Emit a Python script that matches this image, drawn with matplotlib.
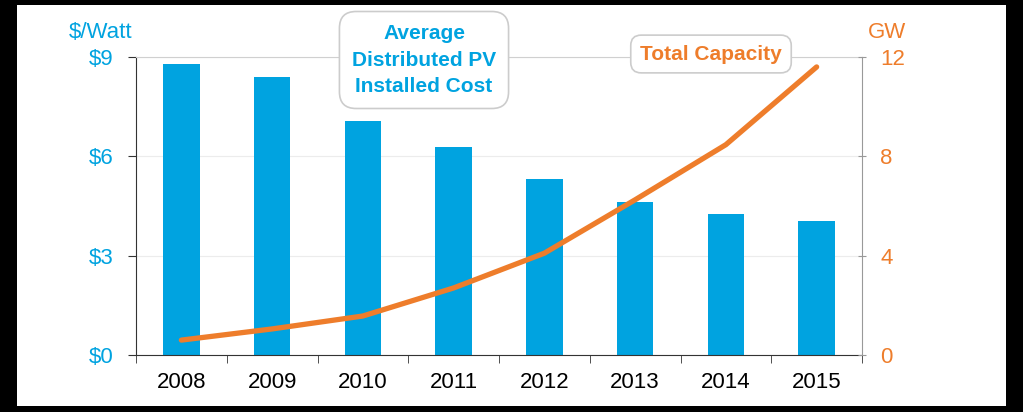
import matplotlib.pyplot as plt
from matplotlib.patches import Rectangle

# chart data
years = ['2008', '2009', '2010', '2011', '2012', '2013', '2014', '2015']
cost = [8.8, 8.4, 7.07, 6.28, 5.32, 4.62, 4.26, 4.05]
capacity = [0.6, 1.05, 1.57, 2.7, 4.1, 6.25, 8.47, 11.6]
cost_ticks = [0, 3, 6, 9]
cost_labels = ['$0', '$3', '$6', '$9']
gw_ticks = [0, 4, 8, 12]

blue = '#00A3E0'
orange = '#EE7D2B'
plt.rcParams['font.family'] = ['Liberation Sans', 'DejaVu Sans']

fig = plt.figure(figsize=(10.23, 4.12), dpi=100, facecolor='black')
fig.patches.append(Rectangle((17 / 1023, 6 / 412), 989 / 1023, 401 / 412,
                             transform=fig.transFigure, facecolor='white',
                             edgecolor='none', zorder=-10))

ax = fig.add_axes([136 / 1023, 57 / 412, 726 / 1023, 298 / 412])
ax.set_zorder(1)
x = range(len(years))
ax.bar(x, cost, width=0.4, color=blue, zorder=2)
ax.set_xlim(-0.5, len(years) - 0.5)
ax.set_ylim(0, 9)
ax.set_xticks(list(x))
ax.set_xticklabels(years, fontsize=16)
ax.tick_params(axis='x', length=0, pad=12)
ax.set_xticks([i - 0.5 for i in range(len(years) + 1)], minor=True)
ax.tick_params(axis='x', which='minor', length=6, direction='out', color='#333333')
ax.set_yticks(cost_ticks)
ax.set_yticklabels(cost_labels, color=blue, fontsize=16)
ax.tick_params(axis='y', length=6, direction='out', color='#333333', pad=10)
ax.grid(axis='y', color='#ececec', linewidth=0.8, zorder=0)
ax.set_axisbelow(True)
ax.spines['left'].set_color('#333333')
ax.spines['bottom'].set_color('#333333')
ax.spines['top'].set_color('#d0d0d0')
ax.spines['right'].set_visible(False)
ax.patch.set_alpha(0)

ax2 = ax.twinx()
ax2.set_zorder(2)
ax2.patch.set_alpha(0)
ax2.plot(list(x), capacity, color=orange, linewidth=3.8, solid_capstyle='round', zorder=3)
ax2.set_ylim(0, 12)
ax2.set_yticks(gw_ticks)
ax2.set_yticklabels([str(t) for t in gw_ticks], color=orange, fontsize=16)
ax2.tick_params(axis='y', length=6, direction='inout', color='#999999', pad=10)
ax2.spines['right'].set_color('#999999')
ax2.spines['top'].set_visible(False)
ax2.spines['left'].set_visible(False)
ax2.spines['bottom'].set_visible(False)

fig.text(101 / 1023, 1 - 32 / 412, '$/Watt', color=blue, fontsize=16,
         ha='center', va='center')
fig.text(887 / 1023, 1 - 32 / 412, 'GW', color=orange, fontsize=16,
         ha='center', va='center')

fig.text(424 / 1023, 1 - 60 / 412, 'Average\nDistributed PV\nInstalled Cost',
         color=blue, fontsize=15, fontweight='bold', ha='center', va='center',
         linespacing=1.5, zorder=5,
         bbox=dict(boxstyle='round,pad=0.6,rounding_size=0.8', facecolor='white',
                   edgecolor='#cccccc', linewidth=1.2))
fig.text(711 / 1023, 1 - 54 / 412, 'Total Capacity',
         color=orange, fontsize=15, fontweight='bold', ha='center', va='center',
         zorder=5,
         bbox=dict(boxstyle='round,pad=0.45,rounding_size=0.5', facecolor='white',
                   edgecolor='#cccccc', linewidth=1.2))

fig.savefig('out.png', dpi=100, facecolor='black')
